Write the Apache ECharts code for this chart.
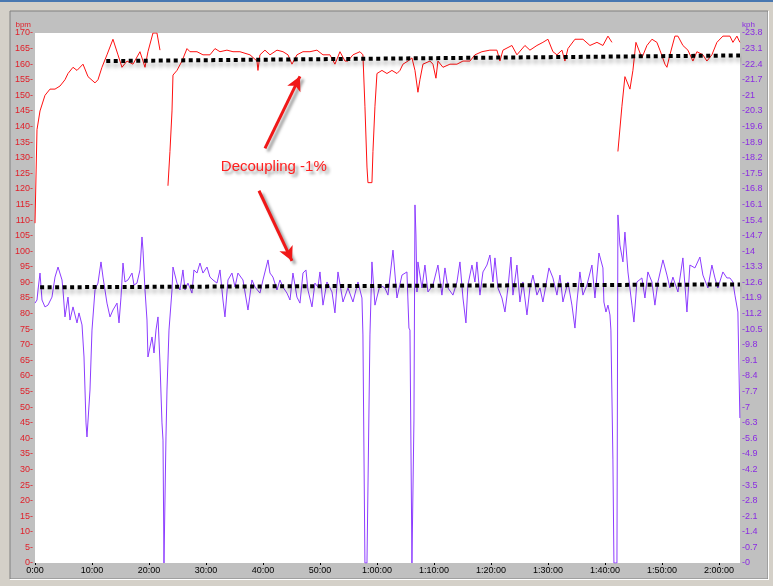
<!DOCTYPE html>
<html>
<head>
<meta charset="utf-8">
<script src="https://cdn.jsdelivr.net/npm/echarts@6/dist/echarts.min.js"></script>
<style>
html,body{margin:0;padding:0;background:#d4d0c8;}
#c{width:773px;height:586px;}
</style>
</head>
<body>
<div id="c"></div>
<script>
// ---- Data (time in minutes) ----
const xTickValues = [0,10,20,30,40,50,60,70,80,90,100,110,120];
const xTickLabels = ['0:00','10:00','20:00','30:00','40:00','50:00','1:00:00','1:10:00','1:20:00','1:30:00','1:40:00','1:50:00','2:00:00'];

// Heart rate [minutes, bpm]; null = no data
const heartRate = [
[0,109],[0.35,139],[0.88,145],[1.75,150],[2.63,152],[3.51,152],[4.39,153],[5.26,155],[5.79,157],[6.67,159],[7.37,158],[8.42,160],[9.30,156],[10.53,154],[11.05,155],[11.75,159],[12.63,163],[13.68,168],[14.56,163],[15.26,159],[16.14,161],[17.19,160],[18.42,164],[19.30,159],[19.82,164],[20.70,170],[21.40,170],[21.93,164.5],
[22.6,null],
[23.33,121],[23.68,132],[24.04,145],[24.21,156.5],[24.91,158],[25.79,161],[26.67,165],[27.19,164],[28.42,164],[29.47,163],[30.70,163],[31.58,165],[32.46,164],[33.68,164.5],[34.74,164],[35.96,164],[37.72,163],[38.95,161],[39.12,158],[39.47,163],[40.35,164.5],[41.23,163],[42.46,164.5],[43.51,164],[44.39,163],[45.09,160],[45.96,163],[47.02,164],[48.25,164],[49.47,164.5],[50.53,163],[51.75,163],[52.63,160],[53.51,164],[54.39,161],[54.91,161],[55.79,163],[57.02,164],[57.54,163],[57.89,146.5],[58.25,127],[58.42,122],[59.12,122],[59.30,132],[59.65,146.5],[60.0,157],[60.88,158],[61.75,157],[62.63,158],[63.51,157],[64.04,158],[64.56,160],[65.44,161],[66.14,162],[66.67,158],[67.19,151],[67.54,155],[68.07,160],[69.30,161],[69.82,160],[70.35,155.5],[70.70,161],[71.58,159],[72.81,160],[74.04,160],[75.09,161],[76.32,161],[77.19,163],[78.42,164],[79.82,164.5],[81.05,164.5],[81.58,161],[82.11,164.5],[83.68,166],[84.56,163],[85.96,166],[86.84,164.5],[88.07,166],[89.12,167],[90.0,168],[90.88,164],[91.58,163],[92.46,164.5],[92.98,161],[93.51,165],[94.74,168],[96.14,168],[97.37,166],[98.6,167],[99.65,166],[100.53,169],[101.23,167],
[101.8,null],
[102.28,132],[102.98,146.5],[103.51,156],[104.39,152],[104.91,158],[105.44,167],[105.79,167],[106.49,162],[107.37,166],[108.25,168],[109.12,167],[109.65,164.5],[110.53,160],[110.88,159],[111.40,163],[112.28,169],[112.81,169],[113.68,166],[114.56,164.5],[115.44,161],[116.14,164],[117.19,163],[117.89,161],[118.77,163],[119.65,167],[120.70,169],[121.93,169],[122.46,167],[123.16,169],[123.68,167]
];

// Speed [minutes, kph]
const speed = [
[0,11.67],[0.35,11.81],[0.53,12.26],[0.88,13.02],[1.23,11.81],[1.75,11.50],[2.28,11.58],[2.98,11.94],[3.51,12.84],[4.04,13.29],[4.74,12.71],[4.91,12.26],[5.26,11.05],[5.79,11.94],[6.14,10.91],[6.67,11.50],[7.37,10.78],[7.72,11.23],[8.25,10.69],[8.60,9.25],[8.95,6.29],[9.12,5.66],[9.47,5.66],[9.65,7.77],[10.0,10.46],[10.53,12.26],[11.05,12.57],[11.58,13.52],[11.93,12.84],[12.63,11.67],[13.16,11.05],[13.68,11.36],[14.39,11.67],[14.74,10.78],[15.09,11.94],[15.44,13.47],[15.79,12.62],[16.32,12.71],[17.02,13.02],[17.37,12.48],[17.89,12.57],[18.42,13.16],[18.77,14.64],[18.95,14.05],[19.30,12.26],[19.65,10.91],[19.82,9.25],[20.18,9.70],[20.53,10.15],[20.88,9.43],[21.23,10.46],[21.58,11.05],[21.93,8.98],[22.28,6.29],[22.46,5.52],[22.63,0],[22.81,0],[22.98,5.66],[23.16,7.77],[23.51,10.46],[24.04,12.26],[24.21,13.29],[24.91,12.57],[25.44,12.26],[25.96,13.16],[26.32,12.26],[26.84,12.57],[27.54,12.12],[27.89,13.16],[28.42,13.02],[28.95,13.47],[29.47,13.02],[30.18,13.29],[30.70,12.84],[31.23,12.71],[31.93,12.57],[32.46,13.16],[32.98,11.81],[33.33,11.05],[33.86,12.71],[34.56,13.02],[35.09,12.39],[35.61,13.02],[36.49,12.71],[37.37,11.36],[38.07,12.71],[38.60,12.39],[39.47,12.12],[40.0,12.71],[40.88,13.61],[41.23,13.02],[41.75,12.84],[42.46,12.26],[42.98,12.71],[43.51,12.39],[44.21,12.12],[44.74,11.81],[45.26,13.02],[45.96,11.94],[46.49,11.67],[47.02,13.02],[47.54,13.16],[47.89,12.26],[48.60,11.50],[49.12,12.57],[49.65,12.39],
[50.0,13.07],[50.53,11.58],[51.23,12.62],[52.11,12.17],[52.63,11.23],[53.16,13.07],[54.04,11.72],[54.91,12.35],[55.79,11.72],[56.67,12.62],[57.37,11.90],[57.54,10.24],[57.89,0],[58.25,0],[58.77,10.24],[59.12,13.52],[59.65,11.58],[60.53,12.48],[61.40,12.35],[61.93,12.03],[62.81,14.05],[63.51,11.90],[64.39,12.93],[65.26,13.07],[65.61,10.55],[65.79,10.46],[66.14,0],[66.32,0],[66.49,6.42],[66.67,16.08],[66.84,14.73],[67.02,12.17],[67.19,13.52],[67.89,12.35],[68.42,13.38],[68.95,12.17],[69.82,12.48],[70.70,13.38],[71.40,12.03],[71.93,13.25],[72.46,12.35],[73.33,12.03],[74.04,12.62],[74.56,13.52],[75.09,11.90],[75.61,10.78],[75.96,12.48],[76.67,13.38],[77.19,12.62],[77.54,13.52],[78.07,12.03],[78.60,13.07],[79.30,13.38],[79.82,13.83],[80.35,12.62],[80.70,13.70],[81.23,12.35],[81.93,11.90],[82.46,11.27],[82.98,12.35],[83.51,13.74],[83.86,12.03],[84.56,13.38],[85.09,11.72],[85.61,12.62],[86.32,11.14],[86.84,12.35],[87.37,12.93],[88.07,12.03],[88.60,12.35],[89.12,11.72],[90.18,13.25],[90.88,12.80],[91.58,12.03],[92.11,12.93],[92.63,11.72],[93.51,12.62],[94.21,11.58],[94.74,10.55],[95.09,11.72],[95.61,13.07],[96.14,12.03],[96.84,12.48],[97.72,13.38],[98.25,11.90],[98.95,13.92],[99.65,13.25],[99.82,11.72],[100.18,11.27],[100.53,11.58],[100.88,11.14],[101.05,10.46],[101.40,4.63],[101.58,0],[102.11,0],
[102.28,15.63],[102.63,14.28],[103.16,13.52],[103.51,14.86],[103.86,14.86],[104.04,13.07],[104.74,11.58],[105.09,10.82],[105.61,12.62],[106.49,12.80],[107.02,11.90],[107.54,13.07],[108.25,12.62],[108.77,11.58],[109.30,12.62],[110.18,13.61],[110.88,12.93],[111.40,12.35],[111.93,12.84],[112.81,12.17],[113.68,13.70],[114.39,11.27],[114.91,13.38],[115.79,13.25],[116.67,13.74],[117.19,12.93],[118.07,12.35],[118.77,13.38],[119.30,12.80],[119.82,12.35],[120.70,13.07],[121.40,12.80],[121.93,12.80],[122.46,12.62],[122.81,12.03],[123.33,11.27],[123.68,6.51]
];

// Dotted trend lines
const hrTrend = [[12.5,161.0],[123.7,162.8]];
const speedTrend = [[0.9,12.38],[123.7,12.51]];

// Annotation
const noteText = 'Decoupling -1%';
const notePos = [41.9,127.2];
const arrowUp = [[40.35,133.0],[46.49,156.1]];
const arrowDown = [[39.3,119.4],[45.09,96.9]];

const FONT = 'Liberation Sans, Arial, sans-serif';
const chart = echarts.init(document.getElementById('c'), null, {renderer:'canvas'});

const trendStyle = {
  color:'#000', width:4, type:[4,3.5], cap:'butt',
  shadowColor:'rgba(0,0,0,0.35)', shadowBlur:4, shadowOffsetY:4
};

chart.setOption({
  animation:false,
  backgroundColor:'#d4d0c8',
  graphic:[
    {type:'rect', z:-10, shape:{x:0,y:0,width:773,height:2}, style:{fill:'#4a78b0'}},
    {type:'rect', z:-9, shape:{x:10,y:11,width:758,height:568}, style:{fill:'#c0c0c0', stroke:'#808080', lineWidth:1}},
    {type:'rect', z:-9, shape:{x:768,y:11,width:1,height:569}, style:{fill:'#ffffff'}},
    {type:'rect', z:-9, shape:{x:10,y:579,width:759,height:1}, style:{fill:'#ffffff'}}
  ],
  grid:{left:35, right:33, top:33, bottom:23, show:true, backgroundColor:'#ffffff', borderWidth:0},
  xAxis:{
    type:'value', min:0, max:123.7,
    axisLine:{show:false}, splitLine:{show:false},
    axisTick:{show:true, customValues:xTickValues, length:2, lineStyle:{color:'#000'}},
    axisLabel:{customValues:xTickValues, fontFamily:FONT, fontSize:9, color:'#000', margin:3,
      formatter:v=>{const i=xTickValues.indexOf(Math.round(v)); return i>=0?xTickLabels[i]:'';}}
  },
  yAxis:[
    {type:'value', min:0, max:170, interval:5, position:'left',
     name:'bpm', nameLocation:'end', nameGap:4,
     nameTextStyle:{color:'#e0202a', fontFamily:FONT, fontSize:8, align:'right', padding:[0,4,0,0]},
     axisLine:{show:false}, axisTick:{show:false}, splitLine:{show:false},
     axisLabel:{color:'#e0202a', fontFamily:FONT, fontSize:9, margin:2, formatter:v=>v+'-'}},
    {type:'value', min:0, max:23.8, interval:0.7, position:'right',
     name:'kph', nameLocation:'end', nameGap:4,
     nameTextStyle:{color:'#8a2be2', fontFamily:FONT, fontSize:8, align:'left', padding:[0,0,0,2]},
     axisLine:{show:false}, axisTick:{show:false}, splitLine:{show:false},
     axisLabel:{color:'#8a2be2', fontFamily:FONT, fontSize:9, margin:2, formatter:v=>'-'+(+(+v).toFixed(1))}}
  ],
  series:[
    {type:'line', name:'Speed', yAxisIndex:1, showSymbol:false, symbol:'none',
     data:speed, lineStyle:{color:'#8c3cff', width:1}, z:2},
    {type:'line', name:'Heart rate', yAxisIndex:0, showSymbol:false, symbol:'none', connectNulls:false,
     data:heartRate.map(p=>[p[0], p[1]===null?'-':p[1]]), lineStyle:{color:'#ff1010', width:1}, z:3,
     markLine:{
       silent:true, symbol:['none','arrow'], symbolSize:[11,14],
       label:{show:false},
       itemStyle:{color:'#f01818'},
       lineStyle:{color:'#f01818', width:3, type:'solid',
         shadowColor:'rgba(0,0,0,0.4)', shadowBlur:3, shadowOffsetX:3, shadowOffsetY:3},
       data:[
         [{coord:arrowUp[0]},{coord:arrowUp[1]}],
         [{coord:arrowDown[0]},{coord:arrowDown[1]}]
       ]
     },
     markPoint:{
       silent:true, symbol:'rect', symbolSize:1, itemStyle:{color:'rgba(0,0,0,0)'},
       label:{show:true, position:'inside', formatter:noteText, color:'#ff2020', fontFamily:FONT, fontSize:15,
         textShadowColor:'rgba(0,0,0,0.45)', textShadowBlur:3, textShadowOffsetX:3, textShadowOffsetY:3},
       data:[{coord:notePos}]
     }
    },
    {type:'line', name:'HR trend', yAxisIndex:0, showSymbol:false, symbol:'none', data:hrTrend, lineStyle:trendStyle, z:4},
    {type:'line', name:'Speed trend', yAxisIndex:1, showSymbol:false, symbol:'none', data:speedTrend, lineStyle:trendStyle, z:4}
  ]
});
</script>
</body>
</html>
